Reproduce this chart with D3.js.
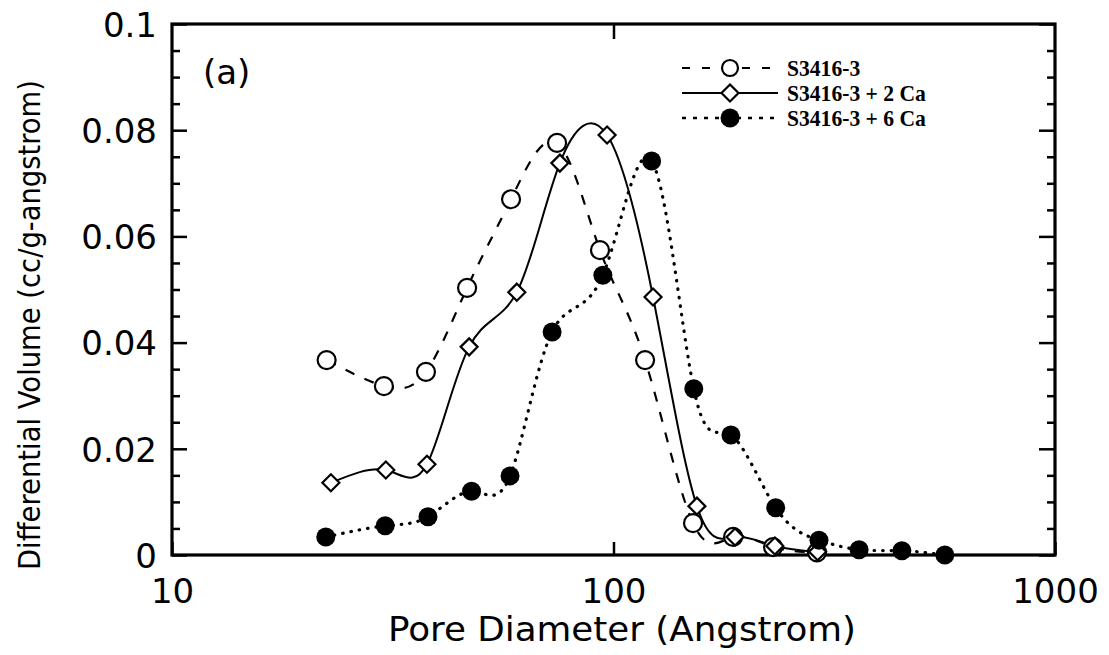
<!DOCTYPE html>
<html><head><meta charset="utf-8">
<script src="https://cdn.jsdelivr.net/npm/d3@7"></script>
<style>body{margin:0;background:#fff}</style>
</head><body><svg id="c" width="1109" height="655"></svg>
<script>
// ---- data ----
const xOpen = [22.4, 30.2, 37.6, 46.6, 58.6, 74.5, 93.2, 117.9, 151.4, 186.6, 229.8, 289];
const yOpen = [0.0367, 0.0318, 0.0345, 0.0503, 0.0670, 0.0776, 0.0574, 0.0367, 0.0060, 0.0034, 0.0015, 0.0005];
const xDia = [22.9, 30.5, 37.8, 47.1, 60.4, 75.6, 96.7, 122.9, 154.5, 188.5, 232, 290];
const yDia = [0.0136, 0.0160, 0.0171, 0.0392, 0.0495, 0.0738, 0.0791, 0.0486, 0.0092, 0.0034, 0.0017, 0.0006];
const xFill = [22.3, 30.4, 38.0, 47.7, 58.3, 72.6, 94.6, 122, 152, 184.5, 233, 292, 360, 450, 563];
const yFill = [0.0034, 0.0055, 0.0072, 0.0120, 0.0149, 0.0420, 0.0527, 0.0742, 0.0313, 0.0226, 0.0089, 0.0028, 0.0010, 0.0008, 0.0000];
const seriesNames = ["S3416-3", "S3416-3 + 2 Ca", "S3416-3 + 6 Ca"];
const xTicks = [10, 100, 1000];
const xTickLabels = ["10", "100", "1000"];
const yTicks = [0, 0.02, 0.04, 0.06, 0.08, 0.1];
const yTickLabels = ["0", "0.02", "0.04", "0.06", "0.08", "0.1"];
const yMinor = [0.005,0.01,0.015,0.025,0.03,0.035,0.045,0.05,0.055,0.065,0.07,0.075,0.085,0.09,0.095];
const xTitle = "Pore Diameter (Angstrom)";
const yTitle = "Differential Volume (cc/g-angstrom)";
const panelLabel = "(a)";

// ---- layout ----
const L = 172, R = 1055, T = 24, B = 555;
const svg = d3.select("#c");
const x = d3.scaleLog().domain([10, 1000]).range([L, R]);
const y = d3.scaleLinear().domain([0, 0.1]).range([B, T]);
const sans = "DejaVu Sans, sans-serif";
const serif = "Liberation Serif, Times New Roman, serif";

function styleAxis(g) {
  g.select(".domain").remove();
  g.selectAll(".tick line").attr("stroke", "#000").attr("stroke-width", 2.5);
  g.selectAll("text").attr("font-family", sans).attr("fill", "#000");
}

// y axis left: major + labels
svg.append("g").attr("transform", `translate(${L},0)`)
  .call(d3.axisLeft(y).tickValues(yTicks).tickSize(-15).tickPadding(15)
    .tickFormat((d, i) => yTickLabels[i]))
  .call(styleAxis).call(g => g.selectAll("text").attr("font-size", 34).attr("dy", "0.36em"));
svg.append("g").attr("transform", `translate(${L},0)`)
  .call(d3.axisLeft(y).tickValues(yMinor).tickSize(-8).tickFormat(""))
  .call(styleAxis);
// right axis
svg.append("g").attr("transform", `translate(${R},0)`)
  .call(d3.axisRight(y).tickValues(yTicks).tickSize(-16).tickFormat(""))
  .call(styleAxis);
svg.append("g").attr("transform", `translate(${R},0)`)
  .call(d3.axisRight(y).tickValues(yMinor).tickSize(-8).tickFormat(""))
  .call(styleAxis);
// x axis bottom
svg.append("g").attr("transform", `translate(0,${B})`)
  .call(d3.axisBottom(x).tickValues(xTicks).tickSize(-13)
    .tickFormat((d, i) => xTickLabels[i]))
  .call(styleAxis).call(g => g.selectAll("text").attr("font-size", 34).attr("y", 48).attr("dy", "0"));
svg.append("g").attr("transform", `translate(0,${T})`)
  .call(d3.axisTop(x).tickValues([100]).tickSize(-15).tickFormat(""))
  .call(styleAxis);

// frame
svg.append("rect").attr("x", L).attr("y", T).attr("width", R - L).attr("height", B - T)
  .attr("fill", "none").attr("stroke", "#000").attr("stroke-width", 3.2);

// titles
svg.append("text").attr("x", 622).attr("y", 641).attr("text-anchor", "middle")
  .attr("font-family", sans).attr("font-size", 33).attr("textLength", 468)
  .attr("lengthAdjust", "spacingAndGlyphs").text(xTitle);
svg.append("text").attr("transform", "translate(40,325) rotate(-90)")
  .attr("text-anchor", "middle").attr("font-family", sans).attr("font-size", 30)
  .attr("textLength", 490).attr("lengthAdjust", "spacingAndGlyphs").text(yTitle);
svg.append("text").attr("x", 203).attr("y", 84).attr("font-family", sans)
  .attr("font-size", 34).text(panelLabel);

// curves
const line = d3.line().x(d => x(d[0])).y(d => y(d[1])).curve(d3.curveNatural);
const open = xOpen.map((v, i) => [v, yOpen[i]]);
const dia = xDia.map((v, i) => [v, yDia[i]]);
const fill = xFill.map((v, i) => [v, yFill[i]]);

svg.append("path").attr("d", line(open)).attr("fill", "none").attr("stroke", "#000")
  .attr("stroke-width", 2.2).attr("stroke-dasharray", "10,11");
svg.append("path").attr("d", line(dia)).attr("fill", "none").attr("stroke", "#000")
  .attr("stroke-width", 2);
svg.append("path").attr("d", line(fill)).attr("fill", "none").attr("stroke", "#000")
  .attr("stroke-width", 3.2).attr("stroke-dasharray", "0.5,8").attr("stroke-linecap", "round");

const diamond = s => `M0,${-s}L${s},0L0,${s}L${-s},0Z`;
svg.append("g").selectAll("circle").data(open).join("circle")
  .attr("cx", d => x(d[0])).attr("cy", d => y(d[1])).attr("r", 9)
  .attr("fill", "#fff").attr("stroke", "#000").attr("stroke-width", 2.2);
svg.append("g").selectAll("path").data(dia).join("path")
  .attr("transform", d => `translate(${x(d[0])},${y(d[1])})`).attr("d", diamond(8.5))
  .attr("fill", "#fff").attr("stroke", "#000").attr("stroke-width", 2.2);
svg.append("g").selectAll("circle").data(fill).join("circle")
  .attr("cx", d => x(d[0])).attr("cy", d => y(d[1])).attr("r", 9.5).attr("fill", "#000");

// legend
const lg = svg.append("g");
const rows = [68, 93, 118];
const lx0 = 682, lx1 = 778, lm = 730, lt = 787;
lg.append("line").attr("x1", lx0).attr("x2", lx1).attr("y1", rows[0]).attr("y2", rows[0])
  .attr("stroke", "#000").attr("stroke-width", 2).attr("stroke-dasharray", "8,12");
lg.append("line").attr("x1", lx0).attr("x2", lx1).attr("y1", rows[1]).attr("y2", rows[1])
  .attr("stroke", "#000").attr("stroke-width", 2);
lg.append("line").attr("x1", lx0).attr("x2", lx1).attr("y1", rows[2]).attr("y2", rows[2])
  .attr("stroke", "#000").attr("stroke-width", 2.5).attr("stroke-dasharray", "4,7");
lg.append("circle").attr("cx", lm).attr("cy", rows[0]).attr("r", 8)
  .attr("fill", "#fff").attr("stroke", "#000").attr("stroke-width", 2.2);
lg.append("path").attr("transform", `translate(${lm},${rows[1]})`).attr("d", diamond(8.5))
  .attr("fill", "#fff").attr("stroke", "#000").attr("stroke-width", 2.2);
lg.append("circle").attr("cx", lm).attr("cy", rows[2]).attr("r", 9.5).attr("fill", "#000");
lg.selectAll("text").data(seriesNames).join("text")
  .attr("transform", (d, i) => `translate(${lt},${rows[i] + 8}) scale(0.9,1)`)
  .attr("font-family", serif).attr("font-weight", "bold").attr("font-size", 24)
  .text(d => d);
</script></body></html>
